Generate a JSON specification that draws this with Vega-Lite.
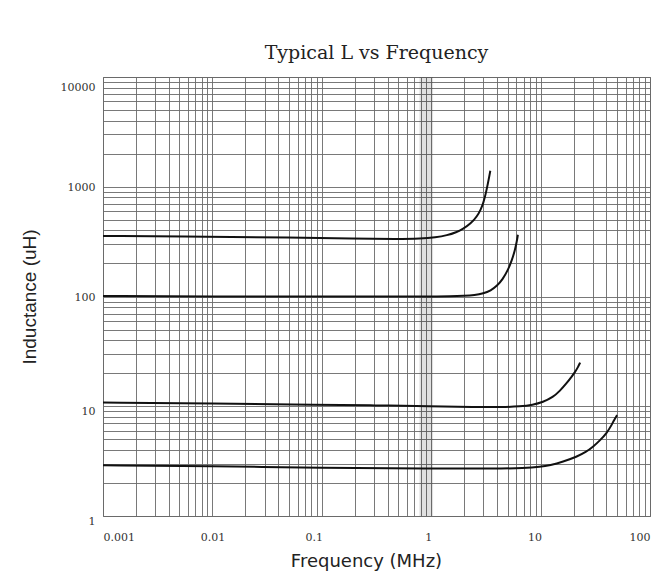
{
  "$schema": "https://vega.github.io/schema/vega-lite/v6.json",
  "autosize": "none",
  "width": 547,
  "height": 439,
  "padding": {"left": 103, "top": 77, "right": 14, "bottom": 71},
  "background": "white",
  "config": {
    "view": {"stroke": "#666", "strokeWidth": 1},
    "axis": {
      "gridColor": "#6a6a6a",
      "gridOpacity": 0.9,
      "gridWidth": 1,
      "ticks": false,
      "domain": false,
      "labelFont": "DejaVu Serif",
      "labelFontSize": 11,
      "labelColor": "#333",
      "labelOverlap": false,
      "titleFont": "Liberation Sans",
      "titleFontWeight": "normal",
      "titleColor": "#222"
    }
  },
  "title": {
    "text": "Typical L vs Frequency",
    "font": "DejaVu Serif",
    "fontSize": 19,
    "fontWeight": "normal",
    "color": "#222",
    "offset": 14
  },
  "datasets": {
    "band": [{"x0": 0.78, "x1": 1.04}],
    "curves": [
      {"s": "A", "f": 0.001, "L": 356},
      {"s": "A", "f": 0.01, "L": 351},
      {"s": "A", "f": 0.05, "L": 345},
      {"s": "A", "f": 0.2, "L": 337},
      {"s": "A", "f": 0.5, "L": 334},
      {"s": "A", "f": 0.8, "L": 337},
      {"s": "A", "f": 1.1, "L": 346},
      {"s": "A", "f": 1.4, "L": 361},
      {"s": "A", "f": 1.7, "L": 385},
      {"s": "A", "f": 1.95, "L": 412},
      {"s": "A", "f": 2.3, "L": 462},
      {"s": "A", "f": 2.62, "L": 535},
      {"s": "A", "f": 2.85, "L": 625},
      {"s": "A", "f": 3.0, "L": 715},
      {"s": "A", "f": 3.15, "L": 860},
      {"s": "A", "f": 3.3, "L": 1075},
      {"s": "A", "f": 3.4, "L": 1250},
      {"s": "A", "f": 3.47, "L": 1400},
      {"s": "B", "f": 0.001, "L": 101},
      {"s": "B", "f": 0.01, "L": 100},
      {"s": "B", "f": 0.1, "L": 100},
      {"s": "B", "f": 1, "L": 100},
      {"s": "B", "f": 1.5, "L": 100.5},
      {"s": "B", "f": 2, "L": 101.5},
      {"s": "B", "f": 2.5, "L": 103},
      {"s": "B", "f": 3.0, "L": 106.5},
      {"s": "B", "f": 3.5, "L": 113},
      {"s": "B", "f": 4.0, "L": 125},
      {"s": "B", "f": 4.5, "L": 143},
      {"s": "B", "f": 5.04, "L": 175},
      {"s": "B", "f": 5.45, "L": 212},
      {"s": "B", "f": 5.83, "L": 265},
      {"s": "B", "f": 6.05, "L": 315},
      {"s": "B", "f": 6.2, "L": 365},
      {"s": "C", "f": 0.001, "L": 10.8},
      {"s": "C", "f": 0.01, "L": 10.6},
      {"s": "C", "f": 0.1, "L": 10.3},
      {"s": "C", "f": 0.3, "L": 10.2},
      {"s": "C", "f": 1, "L": 10.0},
      {"s": "C", "f": 2.5, "L": 9.85},
      {"s": "C", "f": 4.5, "L": 9.8},
      {"s": "C", "f": 6.5, "L": 9.95},
      {"s": "C", "f": 8.5, "L": 10.3},
      {"s": "C", "f": 10.5, "L": 10.9},
      {"s": "C", "f": 13, "L": 12.1},
      {"s": "C", "f": 15, "L": 13.8},
      {"s": "C", "f": 17.4, "L": 16.3},
      {"s": "C", "f": 19.2, "L": 18.6},
      {"s": "C", "f": 20.6, "L": 20.4},
      {"s": "C", "f": 22, "L": 22.8},
      {"s": "C", "f": 23, "L": 25},
      {"s": "D", "f": 0.001, "L": 2.9},
      {"s": "D", "f": 0.01, "L": 2.85},
      {"s": "D", "f": 0.1, "L": 2.74},
      {"s": "D", "f": 1, "L": 2.7},
      {"s": "D", "f": 4, "L": 2.7},
      {"s": "D", "f": 7, "L": 2.73},
      {"s": "D", "f": 10, "L": 2.8},
      {"s": "D", "f": 12.2, "L": 2.9},
      {"s": "D", "f": 16, "L": 3.12},
      {"s": "D", "f": 21.5, "L": 3.47},
      {"s": "D", "f": 26, "L": 3.83},
      {"s": "D", "f": 30, "L": 4.25},
      {"s": "D", "f": 35, "L": 4.9},
      {"s": "D", "f": 40.5, "L": 5.75},
      {"s": "D", "f": 44, "L": 6.6},
      {"s": "D", "f": 47, "L": 7.5},
      {"s": "D", "f": 50, "L": 8.3}
    ]
  },
  "layer": [
    {
      "data": {"name": "band"},
      "mark": {"type": "rect", "color": "#000", "opacity": 0.12},
      "encoding": {
        "x": {"field": "x0", "type": "quantitative", "scale": {"type": "log", "domain": [0.001, 100]}},
        "x2": {"field": "x1"}
      }
    },
    {
      "data": {"name": "curves"},
      "mark": {"type": "line", "color": "#111", "strokeWidth": 2, "interpolate": "basis"},
      "encoding": {
        "x": {
          "field": "f",
          "type": "quantitative",
          "scale": {"type": "log", "domain": [0.001, 100], "nice": false},
          "axis": {
            "title": "Frequency (MHz)",
            "titleFont": "DejaVu Sans",
            "titleFontSize": 18,
            "titlePadding": 10,
            "titleX": 263,
            "labelPadding": 15,
            "labelFlush": true,
            "labelOffset": {
              "condition": [
                {"test": "datum.value == 0.1", "value": -8},
                {"test": "datum.value == 10", "value": -6},
                {"test": "datum.value == 1", "value": -3}
              ],
              "value": 0
            },
            "values": [0.001,0.002,0.003,0.004,0.005,0.006,0.007,0.008,0.009,0.01,0.02,0.03,0.04,0.05,0.06,0.07,0.08,0.09,0.1,0.2,0.3,0.4,0.5,0.6,0.7,0.8,0.9,1,2,3,4,5,6,7,8,9,10,20,30,40,50,60,70,80,90,100],
            "labelExpr": "indexof([0.001,0.01,0.1,1,10,100], datum.value) >= 0 ? format(datum.value, '~g') : ''"
          }
        },
        "y": {
          "field": "L",
          "type": "quantitative",
          "scale": {"type": "log", "domain": [1, 10000], "nice": false},
          "axis": {
            "title": "Inductance (uH)",
            "titleFontSize": 19,
            "titlePadding": 21,
            "labelPadding": 8,
            "labelOffset": {
              "condition": [
                {"test": "datum.value == 10000", "value": 10},
                {"test": "datum.value <= 10", "value": 5}
              ],
              "value": 1
            },
            "values": [1,2,3,4,5,6,7,8,9,10,20,30,40,50,60,70,80,90,100,200,300,400,500,600,700,800,900,1000,2000,3000,4000,5000,6000,7000,8000,9000,10000],
            "labelExpr": "indexof([1,10,100,1000,10000], datum.value) >= 0 ? format(datum.value, '~g') : ''"
          }
        },
        "detail": {"field": "s", "type": "nominal"}
      }
    }
  ]
}
